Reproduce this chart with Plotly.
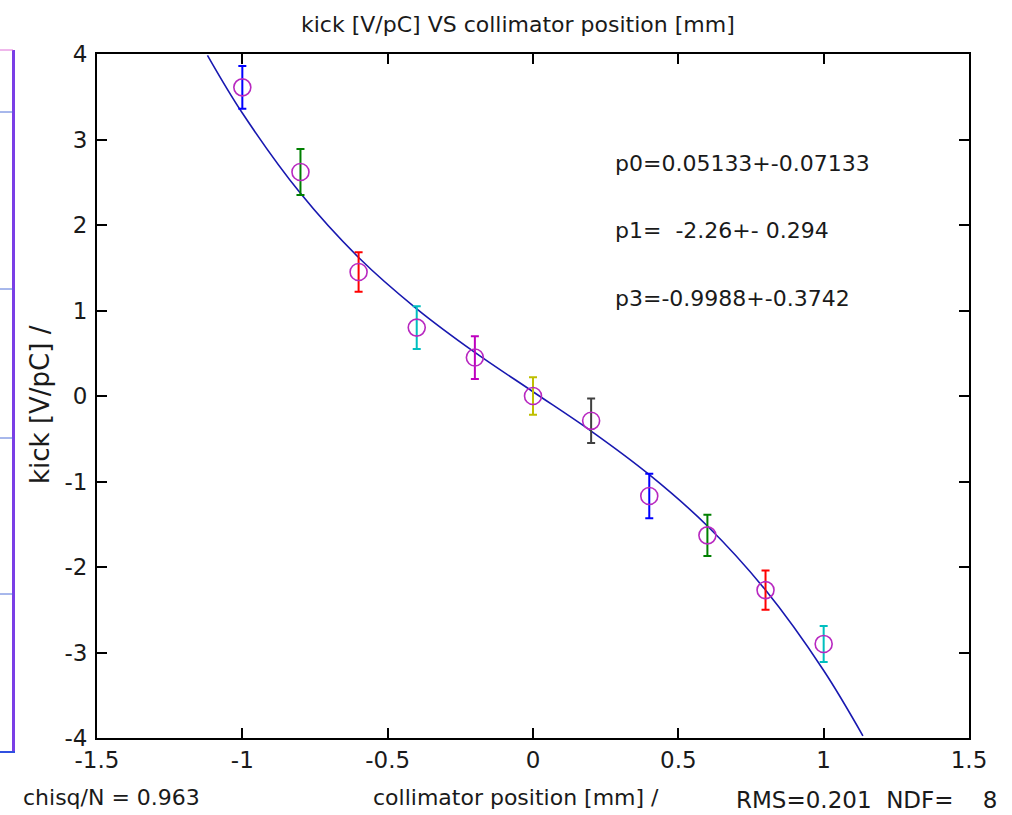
import plotly.graph_objects as go

# ---- data ----
pos_mm = [-1.0, -0.8, -0.6, -0.4, -0.2, 0.0, 0.2, 0.4, 0.6, 0.8, 1.0]
kick = [3.61, 2.62, 1.45, 0.80, 0.45, 0.00, -0.29, -1.17, -1.63, -2.27, -2.90]
kick_err = [0.25, 0.27, 0.23, 0.25, 0.25, 0.22, 0.26, 0.26, 0.24, 0.23, 0.21]
err_colors = ["#0000ff", "#008000", "#ff0000", "#00bfbf", "#bf00bf", "#bfbf00", "#404040",
              "#0000ff", "#008000", "#ff0000", "#00bfbf"]

fit_x = [-1.12, -1.0, -0.8, -0.6, -0.4, -0.2, 0.0, 0.2, 0.4, 0.6, 0.8, 1.0, 1.135]
fit_y = [3.985, 3.31, 2.37, 1.62, 1.02, 0.51, 0.05, -0.41, -0.92, -1.52, -2.27, -3.21, -3.974]

x_ticks = [-1.5, -1, -0.5, 0, 0.5, 1, 1.5]
x_tick_text = ["-1.5", "-1", "-0.5", "0", "0.5", "1", "1.5"]
y_ticks = [-4, -3, -2, -1, 0, 1, 2, 3, 4]
y_tick_text = ["-4", "-3", "-2", "-1", "0", "1", "2", "3", "4"]

title_text = "kick [V/pC] VS collimator position [mm]"
x_title = "collimator position [mm] /"
y_title = "kick [V/pC] /"
fit_params = ["p0=0.05133+-0.07133", "p1=  -2.26+- 0.294", "p3=-0.9988+-0.3742"]
chisq_text = "chisq/N = 0.963"
rms_text = "RMS=0.201  NDF=    8"

# ---- layout geometry (pixels) ----
W, H = 1012, 815
L, R, T, B = 97, 969, 54, 738
FONT = "DejaVu Sans, Liberation Sans, sans-serif"
TXT = "#1a1a1a"


def px(xp):
    return (xp - L) / (R - L)


def py(yp):
    return (B - yp) / (B - T)


fig = go.Figure()

fig.add_trace(go.Scatter(x=fit_x, y=fit_y, mode="lines", line=dict(color="#1818b0", width=1.6, shape="spline"),
                         hoverinfo="skip", showlegend=False))

for xv, yv, ev, c in zip(pos_mm, kick, kick_err, err_colors):
    fig.add_trace(go.Scatter(x=[xv], y=[yv], mode="markers", marker=dict(size=1, opacity=0),
                             error_y=dict(type="data", array=[ev], color=c, thickness=2, width=4),
                             showlegend=False, hoverinfo="skip"))

fig.add_trace(go.Scatter(x=pos_mm, y=kick, mode="markers",
                         marker=dict(symbol="circle-open", size=17, color="#b828c0", line=dict(width=1.6)),
                         showlegend=False))

axis_common = dict(showgrid=False, zeroline=False, showline=True, linecolor="black", linewidth=2,
                   mirror="ticks", ticks="inside", ticklen=10, tickwidth=1.5, tickcolor="black",
                   tickfont=dict(family=FONT, size=23, color=TXT))

fig.update_xaxes(range=[-1.5, 1.5], tickvals=x_ticks, ticktext=x_tick_text, **axis_common)
fig.update_yaxes(range=[-4, 4], tickvals=y_ticks, ticktext=y_tick_text, ticklabelstandoff=3, **axis_common)

annotations = [
    dict(text=title_text, x=px(518), y=py(25), size=22, xanchor="center"),
    dict(text=x_title, x=px(516), y=py(797), size=22, xanchor="center"),
    dict(text=chisq_text, x=px(21), y=py(797), size=22, xanchor="left"),
    dict(text=rms_text, x=px(734), y=py(800), size=23, xanchor="left"),
    dict(text=fit_params[0], x=px(613), y=py(163), size=22, xanchor="left"),
    dict(text=fit_params[1], x=px(613), y=py(230), size=22, xanchor="left"),
    dict(text=fit_params[2], x=px(613), y=py(298), size=22, xanchor="left"),
]
ann_list = []
for a in annotations:
    ann_list.append(dict(text=a["text"], x=a["x"], y=a["y"], xref="paper", yref="paper",
                         xanchor=a["xanchor"], yanchor="middle", showarrow=False,
                         font=dict(family=FONT, size=a["size"], color=TXT)))
ann_list.append(dict(text=y_title, x=px(40), y=py(405), xref="paper", yref="paper", textangle=-90,
                     xanchor="center", yanchor="middle", showarrow=False,
                     font=dict(family=FONT, size=26, color=TXT)))

# partial panel visible at the left edge of the window
shapes = [
    dict(type="line", xref="paper", yref="paper", x0=px(13.5), x1=px(13.5), y0=py(50), y1=py(752),
         line=dict(color="#7a3ee6", width=3)),
    dict(type="line", xref="paper", yref="paper", x0=px(0), x1=px(13), y0=py(50), y1=py(50),
         line=dict(color="#e070d8", width=1)),
    dict(type="line", xref="paper", yref="paper", x0=px(0), x1=px(15), y0=py(752), y1=py(752),
         line=dict(color="#3050e0", width=2)),
]
for yl in [112, 289, 438, 594]:
    shapes.append(dict(type="line", xref="paper", yref="paper", x0=px(0), x1=px(13), y0=py(yl), y1=py(yl),
                       line=dict(color="#5070d8", width=1)))

fig.update_layout(width=W, height=H, margin=dict(l=L, r=W - R, t=T, b=H - B),
                  paper_bgcolor="white", plot_bgcolor="white",
                  annotations=ann_list, shapes=shapes, showlegend=False)

fig.write_html("out.html", config={"displayModeBar": False})
